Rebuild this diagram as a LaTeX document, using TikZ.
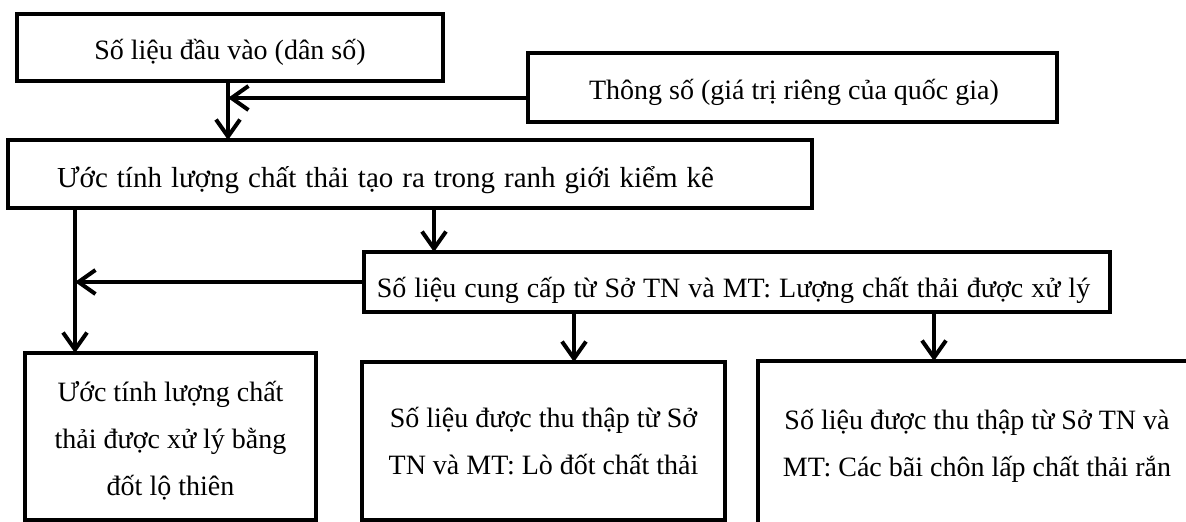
\documentclass[tikz,border=0pt]{standalone}
\usepackage{fontspec}
\setmainfont{Liberation Serif}
\usetikzlibrary{arrows.meta}
\newcommand{\topstrut}{\rule{0pt}{30pt}}
\newcommand{\botstrut}{\rule[-10pt]{0pt}{10pt}}
\begin{document}
\begin{tikzpicture}[x=1pt,y=-1pt,
  box/.style={draw, line width=4pt, inner sep=0pt, outer sep=0pt},
  txt/.style={font=\fontsize{28}{47}\selectfont, align=center, inner sep=0pt},
  arr/.style={line width=4pt, -{Straight Barb[length=17pt,width=24pt]}}]
\useasboundingbox (0,0) rectangle (1186,522);
\clip (0,0) rectangle (1186,522);
% boxes
\node[box, minimum width=426, minimum height=67] (b1) at (230,47.5) {};
\node[box, minimum width=529, minimum height=69] (b2) at (792.5,87.5) {};
\node[box, minimum width=804, minimum height=68] (b3) at (410,174) {};
\node[box, minimum width=746, minimum height=60] (b4) at (737,282) {};
\node[box, minimum width=291, minimum height=167] (b5) at (170.5,436.5) {};
\node[box, minimum width=363, minimum height=158] (b6) at (543.5,441) {};
\node[box, minimum width=438, minimum height=179] (b7) at (977,450.5) {};
% texts
\node[txt, anchor=base] (t1) at (230,59) {Số liệu đầu vào (dân số)};
\node[txt, anchor=base] (t2) at (794,99) {Thông số (giá trị riêng của quốc gia)};
\node[txt, anchor=base west, font=\fontsize{29}{47}\selectfont] (t3) at (57,187) {\spaceskip=9pt Ước tính lượng chất thải tạo ra trong ranh giới kiểm kê};
\node[txt, anchor=base] (t4) at (733.5,297) {\spaceskip=8pt Số liệu cung cấp từ Sở TN và MT: Lượng chất thải được xử lý};
\node[txt] (t5) at (170.5,438) {\topstrut Ước tính lượng chất\\thải được xử lý bằng\\đốt lộ thiên\botstrut};
\node[txt] (t6) at (543.5,440.5) {\topstrut Số liệu được thu thập từ Sở\\TN và MT: Lò đốt chất thải\botstrut};
\node[txt] (t7) at (977,442.5) {\topstrut Số liệu được thu thập từ Sở TN và\\MT: Các bãi chôn lấp chất thải rắn\botstrut};
% junction coordinates
\coordinate (j1) at (228,98);
\coordinate (j2) at (75,282);
\coordinate (xb) at (434,0);
\coordinate (xc) at (574,0);
\coordinate (xd) at (934,0);
% connectors
\draw[arr] (b1.south -| j1) -- (b3.north -| j1);
\draw[arr] (b2.west |- j1) -- (j1);
\draw[arr] (b3.south -| j2) -- (b5.north -| j2);
\draw[arr] (b4.west) -- (j2);
\draw[arr] (b3.south -| xb) -- (b4.north -| xb);
\draw[arr] (b4.south -| xc) -- (b6.north -| xc);
\draw[arr] (b4.south -| xd) -- (b7.north -| xd);
\end{tikzpicture}
\end{document}
